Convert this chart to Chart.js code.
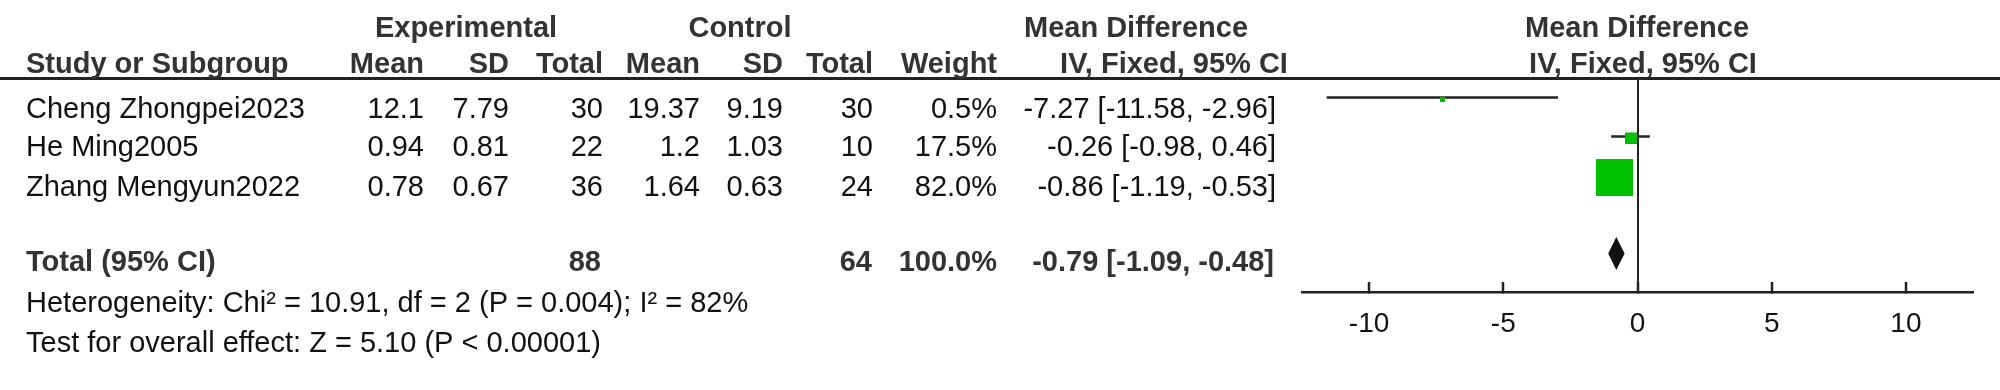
<!DOCTYPE html>
<html>
<head>
<meta charset="utf-8">
<script src="https://cdn.jsdelivr.net/npm/chart.js@4.4.1/dist/chart.umd.min.js"></script>
<style>
body { margin: 0; background: #fff; }
#wrap { width: 2000px; height: 390px; }
</style>
</head>
<body>
<div id="wrap"><canvas id="myChart"></canvas></div>
<script>
// study level data
const studies = ["Cheng Zhongpei2023", "He Ming2005", "Zhang Mengyun2022"];
const expMean = [12.1, 0.94, 0.78];
const expSD = [7.79, 0.81, 0.67];
const expTotal = [30, 22, 36];
const ctlMean = [19.37, 1.2, 1.64];
const ctlSD = [9.19, 1.03, 0.63];
const ctlTotal = [30, 10, 24];
const weights = [0.5, 17.5, 82.0];
const meanDiff = [-7.27, -0.26, -0.86];
const ciLow = [-11.58, -0.98, -1.19];
const ciHigh = [-2.96, 0.46, -0.53];

// pooled result
const totalExp = 88;
const totalCtl = 64;
const totalWeight = 100.0;
const totalMD = -0.79;
const totalLow = -1.09;
const totalHigh = -0.48;

const heterogeneity = "Heterogeneity: Chi\u00b2 = 10.91, df = 2 (P = 0.004); I\u00b2 = 82%";
const overallEffect = "Test for overall effect: Z = 5.10 (P < 0.00001)";

const xTicks = [-10, -5, 0, 5, 10];

const GREEN = '#00c000';
const INK = '#111';
const HEAD = '#333';
const FONT = '"Liberation Sans", Arial, sans-serif';
const TOTAL_ROW = 5;

function fmtCI(m, lo, hi) {
    return m.toFixed(2) + " [" + lo.toFixed(2) + ", " + hi.toFixed(2) + "]";
}

function txt(ctx, s, x, y, align, bold, color) {
    ctx.save();
    ctx.font = (bold ? 'bold ' : '') + '29px ' + FONT;
    ctx.fillStyle = color || INK;
    ctx.textAlign = align || 'left';
    ctx.textBaseline = 'alphabetic';
    ctx.fillText(s, x, y);
    ctx.restore();
}

// green boxes, size grows with the weight (sits 2px under the CI line like the original)
const boxImages = weights.map(w => {
    const size = Math.round(5.2 + 0.388 * w);
    const c = document.createElement('canvas');
    c.width = size;
    c.height = size + 4;
    const g = c.getContext('2d');
    g.fillStyle = GREEN;
    g.fillRect(0, 4, size, size);
    return c;
});

const ciSets = studies.map((s, i) => ({
    label: s,
    data: [{x: ciLow[i], y: i + 1}, {x: ciHigh[i], y: i + 1}],
    showLine: true,
    borderColor: '#222',
    borderWidth: 2.5,
    pointRadius: 0,
    order: 2
}));

const boxSet = {
    label: 'Mean Difference',
    data: meanDiff.map((m, i) => ({x: m, y: i + 1})),
    pointStyle: boxImages,
    pointRadius: 3,
    order: 1
};

const diamondPlugin = {
    id: 'diamond',
    afterDatasetsDraw(chart) {
        const xs = chart.scales.x, ys = chart.scales.y;
        const ctx = chart.ctx;
        const yc = ys.getPixelForValue(TOTAL_ROW);
        ctx.save();
        ctx.fillStyle = '#111';
        ctx.beginPath();
        ctx.moveTo(xs.getPixelForValue(totalLow), yc);
        ctx.lineTo(xs.getPixelForValue(totalMD), yc - 16.5);
        ctx.lineTo(xs.getPixelForValue(totalHigh), yc);
        ctx.lineTo(xs.getPixelForValue(totalMD), yc + 16.5);
        ctx.closePath();
        ctx.fill();
        ctx.restore();
    }
};

const tablePlugin = {
    id: 'table',
    afterDraw(chart) {
        const ctx = chart.ctx;
        ctx.save();
        ctx.fillStyle = '#222';
        ctx.fillRect(0, 77, 2000, 3);
        ctx.restore();

        // headers
        txt(ctx, "Experimental", 466, 36.5, 'center', true, HEAD);
        txt(ctx, "Control", 740, 36.5, 'center', true, HEAD);
        txt(ctx, "Mean Difference", 1136, 36.5, 'center', true, HEAD);
        txt(ctx, "Mean Difference", 1637, 36.5, 'center', true, HEAD);
        txt(ctx, "Study or Subgroup", 26, 73, 'left', true, HEAD);
        txt(ctx, "Mean", 424, 73, 'right', true, HEAD);
        txt(ctx, "SD", 509, 73, 'right', true, HEAD);
        txt(ctx, "Total", 603, 73, 'right', true, HEAD);
        txt(ctx, "Mean", 700, 73, 'right', true, HEAD);
        txt(ctx, "SD", 783, 73, 'right', true, HEAD);
        txt(ctx, "Total", 873, 73, 'right', true, HEAD);
        txt(ctx, "Weight", 997, 73, 'right', true, HEAD);
        txt(ctx, "IV, Fixed, 95% CI", 1174, 73, 'center', true, HEAD);
        txt(ctx, "IV, Fixed, 95% CI", 1643, 73, 'center', true, HEAD);

        const base = [117.5, 156, 195.5];
        for (let i = 0; i < studies.length; i++) {
            let y = base[i];
            txt(ctx, studies[i], 26, y, 'left');
            txt(ctx, String(expMean[i]), 424, y, 'right');
            txt(ctx, String(expSD[i]), 509, y, 'right');
            txt(ctx, String(expTotal[i]), 603, y, 'right');
            txt(ctx, String(ctlMean[i]), 700, y, 'right');
            txt(ctx, String(ctlSD[i]), 783, y, 'right');
            txt(ctx, String(ctlTotal[i]), 873, y, 'right');
            txt(ctx, weights[i].toFixed(1) + "%", 997, y, 'right');
            txt(ctx, fmtCI(meanDiff[i], ciLow[i], ciHigh[i]), 1276, y, 'right');
        }

        txt(ctx, "Total (95% CI)", 26, 271, 'left', true, HEAD);
        txt(ctx, String(totalExp), 601, 271, 'right', true, HEAD);
        txt(ctx, String(totalCtl), 872, 271, 'right', true, HEAD);
        txt(ctx, totalWeight.toFixed(1) + "%", 997, 271, 'right', true, HEAD);
        txt(ctx, fmtCI(totalMD, totalLow, totalHigh), 1274, 271, 'right', true, HEAD);

        txt(ctx, heterogeneity, 26, 311.5, 'left');
        txt(ctx, overallEffect, 26, 352, 'left');
    }
};

const config = {
    type: 'scatter',
    data: {
        datasets: [boxSet].concat(ciSets)
    },
    options: {
        responsive: true,
        maintainAspectRatio: false,
        animation: false,
        layout: {
            padding: {left: 1302, right: 27, top: 78, bottom: 38}
        },
        plugins: {
            legend: {display: false},
            tooltip: {enabled: false}
        },
        scales: {
            x: {
                type: 'linear',
                position: 'bottom',
                min: -12.5,
                max: 12.5,
                afterBuildTicks: s => { s.ticks = xTicks.map(v => ({value: v})); },
                afterFit: s => { s.height = 60; },
                border: {display: true, color: '#222', width: 2.5},
                grid: {
                    color: c => (c.tick && c.tick.value === 0) ? '#222' : 'rgba(0,0,0,0)',
                    lineWidth: 2,
                    drawTicks: true,
                    tickLength: -10,
                    tickColor: '#222',
                    tickWidth: 2.5
                },
                ticks: {
                    color: INK,
                    font: {family: FONT, size: 28},
                    padding: 25,
                    maxRotation: 0,
                    autoSkip: false
                }
            },
            y: {
                type: 'linear',
                display: false,
                reverse: true,
                min: 0.5,
                max: 5.99
            }
        }
    },
    plugins: [diamondPlugin, tablePlugin]
};

new Chart(document.getElementById('myChart'), config);
</script>
</body>
</html>
